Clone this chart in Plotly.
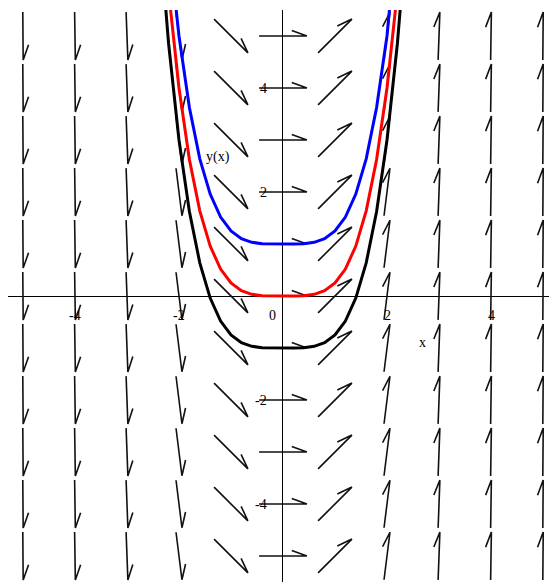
import numpy as np
import plotly.graph_objects as go

# ---- data ----
field_x = [-5, -4, -3, -2, -1, 0, 1, 2, 3, 4, 5]
field_y = [-5, -4, -3, -2, -1, 0, 1, 2, 3, 4, 5]
field_slope = [-125, -64, -27, -8, -1, 0, 1, 8, 27, 64, 125]   # dy/dx = x^3 per column

curve_x = [-2.4, -2.2, -2.0, -1.8, -1.6, -1.4, -1.2, -1.0, -0.8, -0.6, -0.4, -0.2, 0.0,
           0.2, 0.4, 0.6, 0.8, 1.0, 1.2, 1.4, 1.6, 1.8, 2.0, 2.2, 2.4]
curve_blue = [9.294, 6.856, 5.000, 3.624, 2.638, 1.960, 1.518, 1.250, 1.102, 1.032, 1.006, 1.000, 1.000,
              1.000, 1.006, 1.032, 1.102, 1.250, 1.518, 1.960, 2.638, 3.624, 5.000, 6.856, 9.294]
curve_red = [8.294, 5.856, 4.000, 2.624, 1.638, 0.960, 0.518, 0.250, 0.102, 0.032, 0.006, 0.000, 0.000,
             0.000, 0.006, 0.032, 0.102, 0.250, 0.518, 0.960, 1.638, 2.624, 4.000, 5.856, 8.294]
curve_black = [7.294, 4.856, 3.000, 1.624, 0.638, -0.040, -0.482, -0.750, -0.898, -0.968, -0.994, -1.000, -1.000,
               -1.000, -0.994, -0.968, -0.898, -0.750, -0.482, -0.040, 0.638, 1.624, 3.000, 4.856, 7.294]

x_ticks = [-4, -2, 0, 2, 4]
x_tick_labels = ["-4", "-2", "0", "2", "4"]
y_ticks = [-4, -2, 2, 4]
y_tick_labels = ["-4", "-2", "2", "4"]

# ---- arrow geometry (style) ----
L = 0.92          # arrow length (data units, equal px scale on both axes)
B = 0.31          # barb length
ang = np.deg2rad(20)

ax_, ay_ = [], []
for xi, s in zip(field_x, field_slope):
    d = np.array([1.0, float(s)])
    d /= np.linalg.norm(d)
    for yj in field_y:
        c = np.array([xi, yj], dtype=float)
        p0 = c - d * L / 2
        p1 = c + d * L / 2
        bx, by = -d
        rb = np.array([bx * np.cos(ang) + by * np.sin(ang), -bx * np.sin(ang) + by * np.cos(ang)])
        p2 = p1 + rb * B
        ax_ += [p0[0], p1[0], p2[0], None]
        ay_ += [p0[1], p1[1], p2[1], None]

fig = go.Figure()
fig.add_trace(go.Scatter(x=ax_, y=ay_, mode="lines",
                         line=dict(color="#111111", width=1.6), hoverinfo="skip"))
for ys, col in [(curve_blue, "#0000ff"), (curve_red, "#ff0000"), (curve_black, "#000000")]:
    fig.add_trace(go.Scatter(x=curve_x, y=ys, mode="lines",
                             line=dict(color=col, width=3), hoverinfo="skip"))

font = dict(family="Liberation Serif", size=14, color="black")
ann = []
for v, t in zip(x_ticks, x_tick_labels):
    ann.append(dict(x=(v if v != 0 else -0.21), y=0, text=t, showarrow=False,
                    xanchor="center", yanchor="middle", yshift=-19, font=font))
for v, t in zip(y_ticks, y_tick_labels):
    ann.append(dict(x=0, y=v, text=t, showarrow=False,
                    xanchor="right", yanchor="middle", xshift=-14, font=font))
ann.append(dict(x=2.69, y=-0.885, text="x", showarrow=False, font=font))
ann.append(dict(x=-1.25, y=2.67, text="y(x)", showarrow=False, font=font))

# page has an 8px body margin, so the figure is sized/offset to compensate
fig.update_layout(
    width=549, height=578, autosize=False,
    margin=dict(l=0, r=0, t=2, b=4),
    paper_bgcolor="white", plot_bgcolor="white",
    showlegend=False, annotations=ann,
    xaxis=dict(range=[-5.288, 5.269], showgrid=False, zeroline=True,
               zerolinecolor="black", zerolinewidth=1.3, showticklabels=False,
               ticks="", showline=False, fixedrange=True),
    yaxis=dict(range=[-5.5, 5.5], showgrid=False, zeroline=True,
               zerolinecolor="black", zerolinewidth=1.3, showticklabels=False,
               ticks="", showline=False, fixedrange=True),
)
fig.write_html("out.html")
